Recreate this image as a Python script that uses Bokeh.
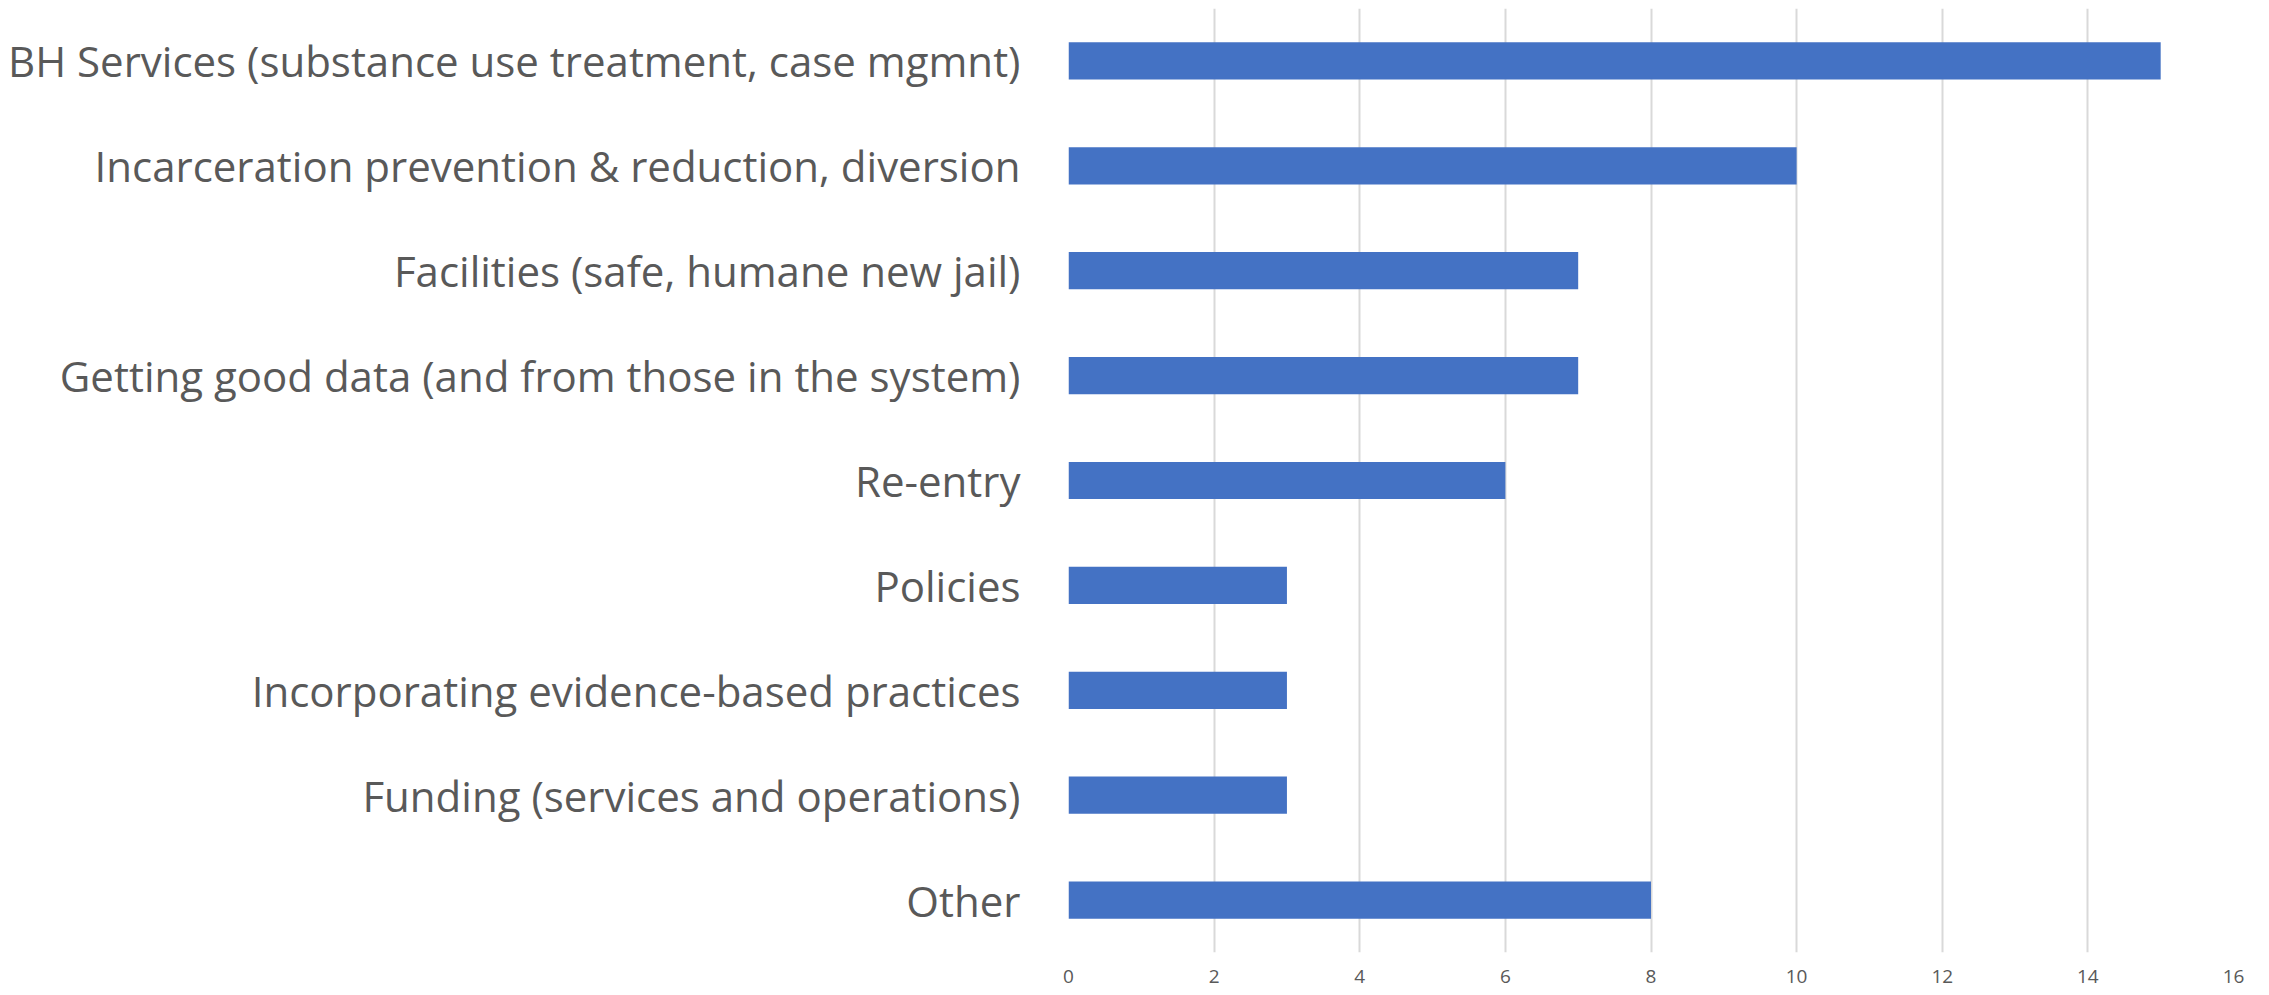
from bokeh.plotting import figure
from bokeh.models import Range1d, FactorRange, FixedTicker, ColumnDataSource
from bokeh.embed import file_html
from bokeh.resources import INLINE

categories = [
    "BH Services (substance use treatment, case mgmnt)",
    "Incarceration prevention & reduction, diversion",
    "Facilities (safe, humane new jail)",
    "Getting good data (and from those in the system)",
    "Re-entry",
    "Policies",
    "Incorporating evidence-based practices",
    "Funding (services and operations)",
    "Other",
]
counts = [15, 10, 7, 7, 6, 3, 3, 3, 8]
x_ticks = [0, 2, 4, 6, 8, 10, 12, 14, 16]

src = ColumnDataSource(data=dict(cat=categories, val=counts))

p = figure(
    width=2261, height=995,
    y_range=FactorRange(factors=list(reversed(categories)), range_padding=0),
    x_range=Range1d(0, 16),
    output_backend="svg", toolbar_location=None,
    min_border_left=1068, min_border_right=28, min_border_top=8, min_border_bottom=43,
)
p.hbar(y="cat", right="val", left=0, height=0.355, source=src,
       fill_color="#4472C4", line_color=None)

p.outline_line_color = None
p.background_fill_color = "white"
p.border_fill_color = "white"

p.xaxis.ticker = FixedTicker(ticks=x_ticks)
p.xaxis.axis_line_color = None
p.xaxis.major_tick_line_color = None
p.xaxis.minor_tick_line_color = None
p.xaxis.major_tick_out = 0
p.xaxis.major_tick_in = 0
p.xaxis.major_label_standoff = 17
p.xaxis.major_label_text_font = "Open Sans"
p.xaxis.major_label_text_font_size = "19px"
p.xaxis.major_label_text_color = "#595959"

p.yaxis.axis_line_color = None
p.yaxis.major_tick_line_color = None
p.yaxis.minor_tick_line_color = None
p.yaxis.major_tick_out = 0
p.yaxis.major_tick_in = 0
p.yaxis.major_label_standoff = 48
p.yaxis.major_label_text_font = "Open Sans"
p.yaxis.major_label_text_font_size = "42px"
p.yaxis.major_label_text_color = "#595959"

p.xgrid.grid_line_color = "#D9D9D9"
p.xgrid.grid_line_width = 2
p.ygrid.grid_line_color = None

open("out.html", "w").write(file_html(p, INLINE))
